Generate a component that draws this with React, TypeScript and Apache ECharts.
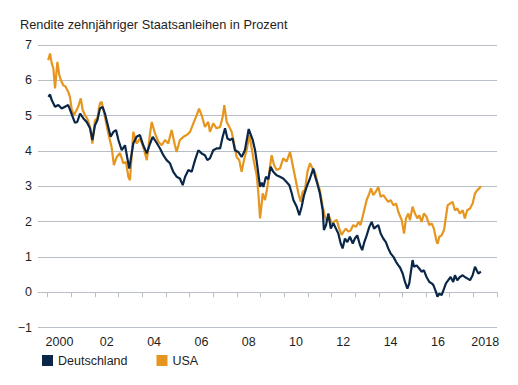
import { useEffect, useRef } from "react";
import * as echarts from "echarts";

const chartTitle = "Rendite zehnjähriger Staatsanleihen in Prozent";
const seriesNames = ["Deutschland", "USA"];

const deYears = [
  2000.03, 2000.1, 2000.17, 2000.31, 2000.45, 2000.59, 2000.73, 2000.87, 2001.01, 2001.15,
  2001.25, 2001.37, 2001.51, 2001.65, 2001.79, 2001.89, 2002.0, 2002.1, 2002.21, 2002.32,
  2002.42, 2002.56, 2002.66, 2002.78, 2002.89, 2002.99, 2003.13, 2003.27, 2003.37, 2003.45,
  2003.62, 2003.76, 2003.9, 2004.04, 2004.19, 2004.33, 2004.44, 2004.58, 2004.75, 2004.89,
  2005.03, 2005.17, 2005.31, 2005.45, 2005.59, 2005.71, 2005.81, 2005.95, 2006.09, 2006.23,
  2006.37, 2006.51, 2006.65, 2006.75, 2006.86, 2007.0, 2007.14, 2007.29, 2007.4, 2007.5,
  2007.6, 2007.71, 2007.82, 2007.92, 2008.06, 2008.2, 2008.34, 2008.5, 2008.67, 2008.77,
  2008.86, 2008.98, 2009.05, 2009.12, 2009.23, 2009.33, 2009.43, 2009.54, 2009.68, 2009.82,
  2009.96, 2010.1, 2010.22, 2010.32, 2010.39, 2010.53, 2010.64, 2010.74, 2010.84, 2010.95,
  2011.09, 2011.23, 2011.3, 2011.4, 2011.51, 2011.63, 2011.68, 2011.77, 2011.87, 2011.97,
  2012.08, 2012.19, 2012.29, 2012.39, 2012.47, 2012.57, 2012.67, 2012.78, 2012.9, 2012.99,
  2013.09, 2013.21, 2013.3, 2013.39, 2013.49, 2013.6, 2013.7, 2013.8, 2013.88, 2013.98,
  2014.08, 2014.19, 2014.3, 2014.4, 2014.5, 2014.62, 2014.73, 2014.83, 2014.9, 2015.01,
  2015.11, 2015.21, 2015.29, 2015.39, 2015.43, 2015.49, 2015.6, 2015.71, 2015.81, 2015.91,
  2016.02, 2016.14, 2016.24, 2016.31, 2016.42, 2016.48, 2016.56, 2016.66, 2016.76, 2016.84,
  2016.94, 2017.04, 2017.15, 2017.22, 2017.32, 2017.43, 2017.55, 2017.64, 2017.74, 2017.86,
  2017.97, 2018.07, 2018.14, 2018.21, 2018.32,
];
const deValues = [
  5.53, 5.6, 5.44, 5.25, 5.3, 5.2, 5.25, 5.3, 5.05, 4.8,
  4.82, 5.06, 4.92, 4.82, 4.64, 4.31, 4.73, 4.87, 5.2, 5.25,
  5.06, 4.68, 4.4, 4.54, 4.59, 4.31, 4.02, 4.16, 3.79, 3.5,
  4.21, 4.4, 4.45, 4.16, 3.93, 4.21, 4.4, 4.26, 4.07, 3.88,
  3.74, 3.65, 3.41, 3.27, 3.22, 3.03, 3.27, 3.46, 3.41, 3.74,
  4.02, 3.93, 3.88, 3.74, 3.79, 4.02, 4.07, 4.07, 4.4, 4.64,
  4.35, 4.31, 4.35, 4.02, 3.97, 3.83, 4.02, 4.62, 4.31, 4.02,
  3.6, 2.98, 3.1, 2.98, 3.27, 3.2, 3.55, 3.41, 3.31, 3.27,
  3.22, 3.12, 3.03, 2.8, 2.61, 2.42, 2.18, 2.42, 2.75, 2.98,
  3.22, 3.5, 3.3, 3.08, 2.8, 2.32, 1.76, 1.9, 2.23, 1.8,
  1.95, 1.8, 1.66, 1.38, 1.24, 1.52, 1.42, 1.57, 1.38, 1.52,
  1.61, 1.33, 1.19, 1.42, 1.61, 1.85, 1.99, 1.8, 1.85, 1.9,
  1.66, 1.52, 1.42, 1.24, 1.1, 1.0, 0.86, 0.76, 0.7, 0.53,
  0.29, 0.1, 0.25, 0.72, 0.91, 0.72, 0.76, 0.67, 0.58, 0.62,
  0.43, 0.29, 0.25, 0.2, 0.01, -0.13, -0.04, -0.08, 0.1, 0.25,
  0.34, 0.43, 0.29, 0.48, 0.34, 0.43, 0.48, 0.43, 0.39, 0.34,
  0.48, 0.72, 0.62, 0.53, 0.58,
];

const usYears = [
  2000.02, 2000.1, 2000.17, 2000.24, 2000.31, 2000.41, 2000.49, 2000.56, 2000.66, 2000.76,
  2000.87, 2000.94, 2001.02, 2001.11, 2001.29, 2001.4, 2001.48, 2001.58, 2001.67, 2001.79,
  2001.89, 2002.0, 2002.1, 2002.21, 2002.28, 2002.42, 2002.56, 2002.7, 2002.8, 2002.92,
  2003.06, 2003.2, 2003.31, 2003.41, 2003.48, 2003.62, 2003.76, 2003.9, 2004.04, 2004.19,
  2004.33, 2004.4, 2004.54, 2004.68, 2004.82, 2004.96, 2005.1, 2005.24, 2005.38, 2005.45,
  2005.59, 2005.74, 2005.88, 2006.02, 2006.16, 2006.3, 2006.4, 2006.51, 2006.65, 2006.79,
  2006.86, 2007.0, 2007.14, 2007.29, 2007.4, 2007.47, 2007.57, 2007.68, 2007.78, 2007.88,
  2007.99, 2008.1, 2008.2, 2008.3, 2008.41, 2008.53, 2008.62, 2008.72, 2008.84, 2008.91,
  2008.98, 2009.05, 2009.09, 2009.19, 2009.29, 2009.4, 2009.47, 2009.57, 2009.68, 2009.82,
  2009.96, 2010.1, 2010.25, 2010.36, 2010.46, 2010.6, 2010.7, 2010.78, 2010.88, 2010.98,
  2011.09, 2011.2, 2011.3, 2011.4, 2011.51, 2011.63, 2011.73, 2011.82, 2011.91, 2012.01,
  2012.11, 2012.22, 2012.33, 2012.43, 2012.5, 2012.61, 2012.71, 2012.81, 2012.92, 2013.04,
  2013.14, 2013.23, 2013.35, 2013.42, 2013.49, 2013.6, 2013.67, 2013.77, 2013.87, 2013.98,
  2014.08, 2014.19, 2014.3, 2014.4, 2014.5, 2014.62, 2014.73, 2014.83, 2014.97, 2015.07,
  2015.15, 2015.25, 2015.32, 2015.43, 2015.53, 2015.63, 2015.71, 2015.81, 2015.91, 2016.02,
  2016.14, 2016.24, 2016.33, 2016.45, 2016.49, 2016.56, 2016.66, 2016.76, 2016.84, 2016.91,
  2017.01, 2017.12, 2017.22, 2017.32, 2017.43, 2017.55, 2017.64, 2017.74, 2017.86, 2017.97,
  2018.07, 2018.17, 2018.25, 2018.32,
];
const usValues = [
  6.57, 6.76, 6.48, 6.34, 5.77, 6.52, 6.15, 6.0, 5.86, 5.82,
  5.67, 5.53, 5.16, 5.01, 5.25, 5.49, 5.16, 5.01, 4.92, 4.68,
  4.21, 4.87, 4.92, 5.35, 5.39, 4.97, 4.5, 4.12, 3.6, 3.83,
  3.94, 3.65, 3.69, 3.27, 3.17, 4.54, 4.21, 4.35, 4.12, 3.74,
  4.5, 4.82, 4.49, 4.26, 4.16, 4.31, 4.21, 4.59, 4.16, 3.97,
  4.31, 4.4, 4.45, 4.54, 4.78, 5.01, 5.2, 5.01, 4.68, 4.82,
  4.54, 4.78, 4.64, 4.68, 4.97, 5.3, 4.82, 4.68, 4.54, 4.21,
  3.83, 3.74, 3.41, 3.74, 4.02, 4.45, 4.1, 3.7, 3.3, 2.8,
  2.09, 2.51, 2.8, 2.61, 2.98, 3.55, 3.88, 3.6, 3.46, 3.5,
  3.79, 3.7, 3.97, 3.6, 3.27, 2.8, 2.56, 2.84, 2.9, 3.4,
  3.65, 3.5, 3.41, 3.12, 2.89, 2.42, 2.13, 2.0, 2.13, 1.95,
  2.0, 2.05, 1.8, 1.62, 1.7, 1.8, 1.72, 1.75, 1.9, 1.85,
  1.99, 1.9, 2.23, 2.42, 2.61, 2.8, 2.94, 2.75, 2.84, 2.98,
  2.7, 2.75, 2.65, 2.56, 2.61, 2.46, 2.51, 2.27, 2.04, 1.66,
  2.09, 2.23, 2.04, 2.42, 2.23, 2.09, 2.18, 1.99, 2.23, 2.13,
  1.9, 1.95, 1.8, 1.42, 1.37, 1.57, 1.61, 1.76, 2.13, 2.46,
  2.51, 2.56, 2.32, 2.37, 2.23, 2.32, 2.09, 2.32, 2.37, 2.51,
  2.8, 2.89, 2.94, 3.0,
];

const tickYears = [
  2000, 2001, 2002, 2003, 2004, 2005, 2006, 2007, 2008, 2009,
  2010, 2011, 2012, 2013, 2014, 2015, 2016, 2017, 2018, 2019,
];
const labelYears = [2000, 2002, 2004, 2006, 2008, 2010, 2012, 2014, 2016, 2018];

const NAVY = "#0b2748";
const ORANGE = "#e6961e";
const GRID = "#b7bec5";
const TEXT = "#1e1e1e";
const FONT = "'Liberation Sans', Arial, Helvetica, sans-serif";

function zip(xs: number[], ys: number[]) {
  return xs.map((x, i) => [x, ys[i]]);
}

export default function App() {
  const ref = useRef<HTMLDivElement>(null);
  useEffect(() => {
    if (!ref.current) return;
    const chart = echarts.init(ref.current, null, { renderer: "svg" });
    chart.setOption({
      animation: false,
      backgroundColor: "#ffffff",
      textStyle: { fontFamily: FONT },
      title: {
        text: chartTitle,
        left: 15,
        top: 13,
        textStyle: { fontSize: 12.8, fontWeight: "normal", color: TEXT, fontFamily: FONT },
      },
      legend: {
        data: seriesNames,
        left: 37,
        top: 349,
        icon: "rect",
        itemWidth: 11,
        itemHeight: 11,
        itemGap: 29,
        textStyle: { fontSize: 12.5, color: TEXT, fontFamily: FONT },
      },
      grid: { left: 38, right: 21, top: 45, bottom: 57.5, containLabel: false },
      xAxis: {
        type: "value",
        min: 1999.59,
        max: 2019,
        axisLine: { show: true, lineStyle: { color: GRID, width: 1 } },
        axisTick: {
          show: true,
          customValues: tickYears,
          length: 5,
          lineStyle: { color: GRID, width: 1 },
        },
        axisLabel: {
          customValues: labelYears.map((y) => y + 0.5),
          margin: 8,
          fontSize: 12.5,
          color: TEXT,
          fontFamily: FONT,
          formatter: (v: number) => {
            const y = Math.floor(v);
            return y === 2000 || y === 2018 ? String(y) : String(y).slice(2);
          },
        },
        splitLine: { show: false },
      },
      yAxis: {
        type: "value",
        min: -1,
        max: 7,
        interval: 1,
        axisLine: { show: false },
        axisTick: { show: false },
        axisLabel: {
          margin: 6,
          fontSize: 12.5,
          color: TEXT,
          fontFamily: FONT,
          formatter: (v: number) => (v < 0 ? "\u2212" + Math.abs(v) : String(v)),
        },
        splitLine: { show: true, lineStyle: { color: GRID, width: 1 } },
      },
      series: [
        {
          name: "USA",
          type: "line",
          data: zip(usYears, usValues),
          showSymbol: false,
          symbol: "none",
          lineStyle: { color: ORANGE, width: 2.2 },
          itemStyle: { color: ORANGE },
          z: 2,
        },
        {
          name: "Deutschland",
          type: "line",
          data: zip(deYears, deValues),
          showSymbol: false,
          symbol: "none",
          lineStyle: { color: NAVY, width: 2.2 },
          itemStyle: { color: NAVY },
          z: 3,
        },
      ],
    });
    return () => chart.dispose();
  }, []);
  return (
    <div
      ref={ref}
      style={{ position: "absolute", left: 0, top: 0, width: 518, height: 385 }}
    />
  );
}
